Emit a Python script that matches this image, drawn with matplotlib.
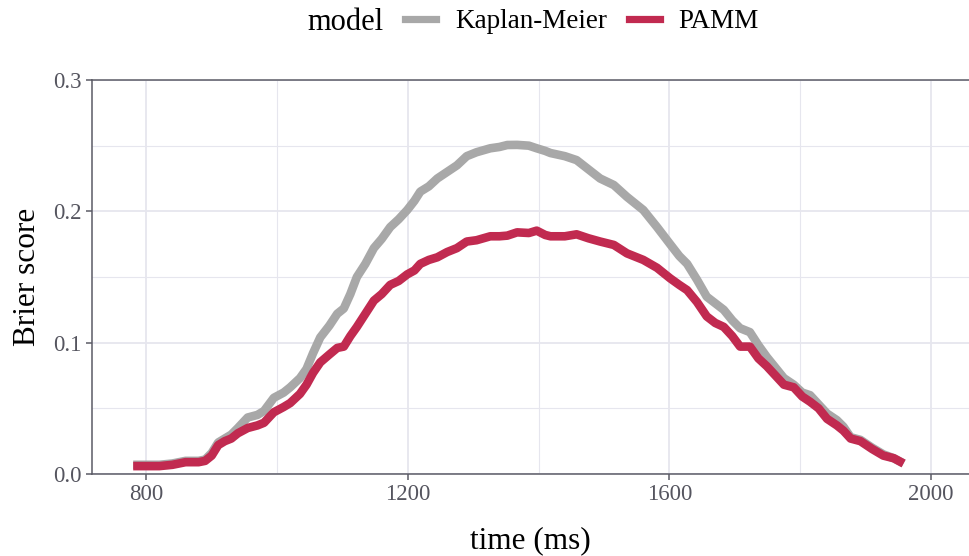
import matplotlib
matplotlib.use("Agg")
import matplotlib.pyplot as plt
from matplotlib.lines import Line2D
from matplotlib.ticker import MultipleLocator

# time grid (ms)
time_ms = [780, 800, 820, 840, 860, 880, 890, 900, 910, 920, 930, 940, 955, 970, 980,
           995, 1010, 1020, 1035, 1045, 1055, 1066, 1080, 1092, 1102, 1112, 1122, 1135,
           1148, 1160, 1173, 1186, 1199, 1210, 1219, 1232, 1245, 1260, 1275, 1290, 1305,
           1326, 1340, 1352, 1367, 1385, 1397, 1410, 1418, 1440, 1458, 1476, 1494, 1515,
           1535, 1560, 1581, 1601, 1615, 1627, 1642, 1657, 1670, 1683, 1696, 1708, 1723,
           1736, 1749, 1762, 1775, 1790, 1803, 1815, 1828, 1841, 1856, 1866, 1877, 1892,
           1910, 1927, 1943, 1958]

brier_km = [.007, .007, .007, .008, .010, .010, .011, .016, .024, .027, .030, .035, .043,
            .045, .048, .058, .062, .066, .073, .080, .092, .104, .113, .122, .126, .137,
            .150, .160, .172, .179, .188, .194, .201, .208, .215, .219, .225, .230, .235,
            .242, .245, .248, .249, .2505, .2506, .250, .248, .246, .2444, .242, .239, .232,
            .225, .220, .211, .201, .188, .175, .166, .160, .148, .135, .130, .125, .117,
            .111, .108, .098, .089, .081, .073, .068, .062, .060, .053, .046, .041, .036,
            .028, .026, .020, .015, .012, .008]

brier_pamm = [.006, .006, .006, .007, .009, .009, .010, .014, .022, .025, .027, .031, .035,
              .037, .039, .047, .051, .054, .061, .068, .077, .085, .091, .096, .097, .105,
              .112, .122, .132, .137, .144, .147, .152, .155, .160, .163, .165, .169, .172,
              .177, .178, .181, .181, .1815, .184, .1835, .1853, .182, .181, .181, .1825,
              .1795, .177, .1744, .168, .163, .157, .149, .144, .140, .131, .120, .115, .112,
              .105, .097, .097, .088, .082, .075, .068, .066, .059, .055, .050, .042, .037,
              .033, .027, .025, .019, .014, .012, .008]

models = ["Kaplan-Meier", "PAMM"]
colors = {"Kaplan-Meier": "#A8A8A8", "PAMM": "#C12A50"}

plt.rcParams['font.family'] = ['Liberation Serif', 'DejaVu Serif']

fig = plt.figure(figsize=(9.69, 5.56), dpi=100)
ax = fig.add_axes([92 / 969, 1 - 474 / 556, 1 - 92 / 969, (474 - 80) / 556])

axis_col = "#5B5B66"
grid_col = "#E6E6EE"

ax.plot(time_ms, brier_km, color=colors["Kaplan-Meier"], lw=6.2, solid_capstyle="butt", zorder=3)
ax.plot(time_ms, brier_pamm, color=colors["PAMM"], lw=6.2, solid_capstyle="butt", zorder=4)

ax.set_xlim(717, 2058)
ax.set_ylim(0, 0.3)
ax.xaxis.set_minor_locator(MultipleLocator(200))
ax.yaxis.set_minor_locator(MultipleLocator(0.05))
ax.set_xticks([800, 1200, 1600, 2000])
ax.set_yticks([0.0, 0.1, 0.2, 0.3])
ax.set_yticklabels(["0.0", "0.1", "0.2", "0.3"])

ax.grid(which="major", color=grid_col, lw=1.3, zorder=0)
ax.grid(which="minor", color=grid_col, lw=0.8, zorder=0)
ax.tick_params(which="minor", length=0)
ax.tick_params(which="major", length=4.5, width=1.1, color=axis_col,
               labelcolor="#55555F", labelsize=16.5, pad=3)

for side in ["left", "bottom", "top"]:
    ax.spines[side].set_color(axis_col)
    ax.spines[side].set_linewidth(1.1)
ax.spines["right"].set_visible(False)

ax.set_xlabel("time (ms)", fontsize=22.5, labelpad=15)
ax.set_ylabel("Brier score", fontsize=22.5, labelpad=8)

fig.text(384 / 969, 1 - 22 / 556, "model", fontsize=22, ha="right", va="center")
handles = [Line2D([0], [0], color=colors[m], lw=5.2) for m in models]
fig.legend(handles, models, loc="center left", bbox_to_anchor=(405 / 969, 1 - 22 / 556),
           ncol=2, frameon=False, fontsize=19.5, handlelength=1.15, handletextpad=0.7,
           columnspacing=0.8, borderpad=0, borderaxespad=0)

fig.savefig("out.png", dpi=100)
